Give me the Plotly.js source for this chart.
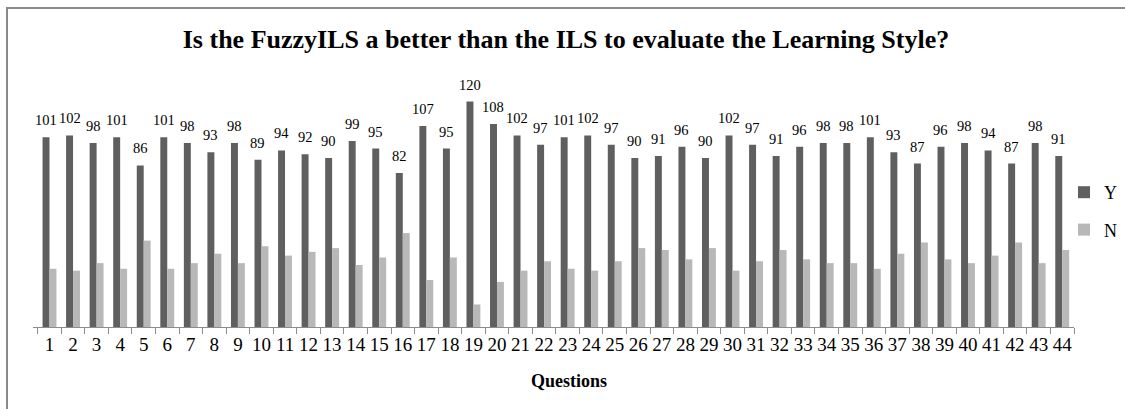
<!DOCTYPE html>
<html>
<head>
<meta charset="utf-8">
<script src="https://cdn.plot.ly/plotly-3.0.1.min.js"></script>
<style>
  html, body { margin: 0; padding: 0; background: #fff; }
  #chart { width: 1125px; height: 409px; }
  #frame { position: absolute; left: 6px; top: 7px; width: 1125px; height: 409px;
           border-top: 2px solid #8a8a8a; border-left: 2px solid #8a8a8a; pointer-events: none; }
</style>
</head>
<body>
<div id="chart"></div>
<div id="frame"></div>
<script>
const questions = ["1","2","3","4","5","6","7","8","9","10","11","12","13","14","15","16","17","18","19","20","21","22",
  "23","24","25","26","27","28","29","30","31","32","33","34","35","36","37","38","39","40","41","42","43","44"];
const yesValues = [101,102,98,101,86,101,98,93,98,89,94,92,90,99,95,82,107,95,120,108,102,97,
  101,102,97,90,91,96,90,102,97,91,96,98,98,101,93,87,96,98,94,87,98,91];
const noValues = [31,30,34,31,46,31,34,39,34,43,38,40,42,33,37,50,25,37,12,24,30,35,
  31,30,35,42,41,36,42,30,35,41,36,34,34,31,39,45,36,34,38,45,34,41];
const seriesNames = ["Y", "N"];
const titleText = "Is the FuzzyILS a better than the ILS to evaluate the Learning Style?";
const xTitleText = "Questions";

const serif = "'Liberation Serif', 'Times New Roman', serif";

const traces = [
  { type: "bar", name: seriesNames[0], x: questions, y: yesValues, marker: { color: "#5f5f5f" },
    legendgroup: "a", hoverinfo: "x+y" },
  { type: "bar", name: seriesNames[1], x: questions, y: noValues, marker: { color: "#b8b8b8" },
    legendgroup: "b", hoverinfo: "x+y" }
];

const annotations = questions.map((q, i) => ({
  x: i, y: yesValues[i], xref: "x", yref: "y", text: String(yesValues[i]),
  showarrow: false, xanchor: "center", yanchor: "bottom", xshift: -3.5, yshift: 7,
  font: { family: serif, size: 14.5, color: "#000" }
}));
annotations.push({
  x: (572 - 36) / 1041, y: (327 - 381) / 263, xref: "paper", yref: "paper", text: "<b>" + xTitleText + "</b>",
  showarrow: false, xanchor: "center", yanchor: "middle",
  font: { family: serif, size: 18, color: "#000" }
});

const layout = {
  width: 1125, height: 409,
  margin: { l: 33, r: 51, t: 64, b: 82, pad: 0, autoexpand: false },
  paper_bgcolor: "#fff", plot_bgcolor: "#fff",
  barmode: "group", bargap: 0.41, bargroupgap: 0,
  title: { text: "<b>" + titleText + "</b>", x: (566 - 33) / 1041, xref: "paper", xanchor: "center",
           y: 1 - 39 / 409, yref: "container", yanchor: "middle",
           font: { family: serif, size: 26, color: "#000" } },
  xaxis: {
    type: "category", showgrid: false, zeroline: false,
    showline: true, linecolor: "#8c8c8c", linewidth: 1,
    ticks: "outside", tickson: "boundaries", ticklen: 6, tickcolor: "#8c8c8c",
    tickmode: "array", tickvals: questions, ticktext: questions,
    tickfont: { family: serif, size: 19, color: "#000" }, tickangle: 0,
    automargin: false
  },
  yaxis: { range: [0, 140], visible: false, showgrid: false, zeroline: false, fixedrange: true },
  legend: { x: 1064 / 1125, xref: "container", xanchor: "left", y: 1 - 211 / 409, yref: "container", yanchor: "middle",
            font: { family: serif, size: 18, color: "#000" }, tracegroupgap: 11,
            traceorder: "grouped", bgcolor: "rgba(0,0,0,0)", itemwidth: 30 },
  annotations: annotations,
  showlegend: true
};

Plotly.newPlot("chart", traces, layout, { displayModeBar: false, staticPlot: true });
</script>
</body>
</html>
